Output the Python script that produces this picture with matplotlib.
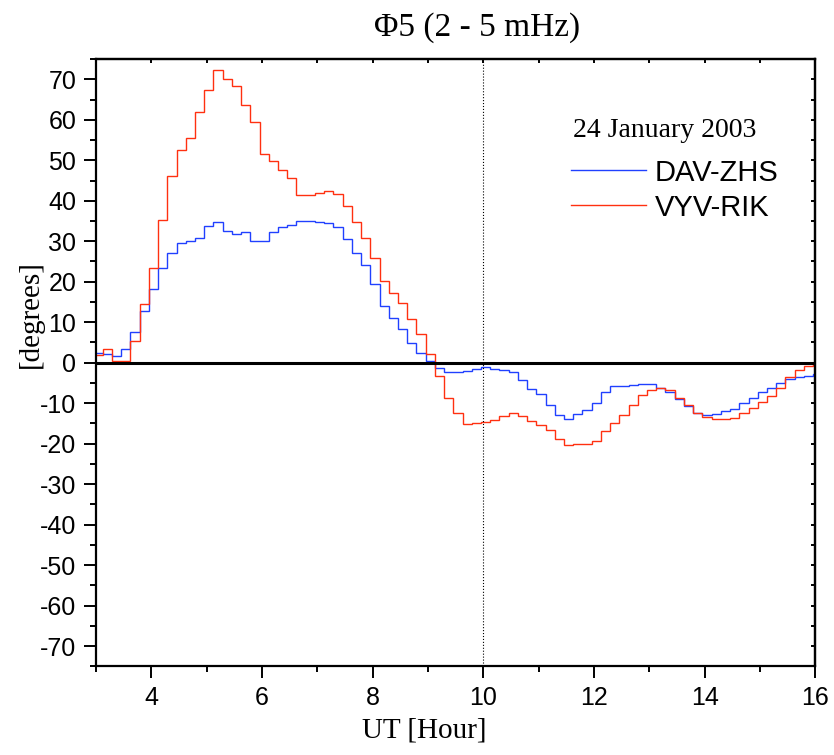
import numpy as np
import matplotlib
matplotlib.use('Agg')
import matplotlib.pyplot as plt
from matplotlib.ticker import MultipleLocator

# 10-min bins, edges at 2:57:30 + k*10min (plot clipped at 3..16 UT)
t_start = 3 - 1 / 24
t_step = 1 / 6

dav_zhs = [2.5, 2.1, 1.6, 3.4, 7.5, 12.8, 18.1, 23.3, 27.1, 29.5, 30.0, 30.9,
           33.8, 34.7, 32.5, 31.9, 32.4, 30.0, 30.0, 32.4, 33.6, 34.1, 35.0, 35.1,
           34.8, 34.6, 33.6, 30.5, 27.2, 24.1, 19.5, 14.0, 11.1, 8.4, 4.9, 2.5, 0.4,
           -1.3, -2.3, -2.2, -2.0, -1.5, -1.0, -1.5, -1.7, -2.2, -4.2, -6.4, -7.8,
           -10.4, -13.0, -13.8, -12.7, -11.8, -10.0, -7.3, -5.7, -5.8, -5.6, -5.3,
           -5.3, -6.3, -7.2, -9.0, -10.6, -12.3, -12.8, -12.6, -11.9, -11.4, -10.0,
           -8.6, -7.2, -6.3, -4.9, -4.0, -3.5, -3.2, -2.9]
vyv_rik = [1.9, 3.3, 0.5, 0.5, 5.4, 14.4, 23.3, 35.2, 46.2, 52.6, 55.4, 61.8,
           67.3, 72.4, 70.1, 68.4, 63.6, 59.4, 51.5, 49.8, 47.7, 45.5, 41.4, 41.4,
           41.8, 42.4, 41.6, 38.6, 34.7, 30.9, 25.9, 20.2, 17.1, 14.7, 10.9, 7.2, 2.1,
           -3.3, -8.6, -12.3, -15.1, -15.0, -14.6, -14.2, -13.1, -12.3, -13.2, -14.3,
           -15.3, -16.7, -18.8, -20.3, -20.2, -20.0, -19.3, -16.9, -14.8, -12.8,
           -10.5, -8.1, -6.8, -6.2, -6.7, -8.6, -10.4, -12.4, -13.4, -13.9, -13.9,
           -13.6, -12.4, -11.3, -9.6, -8.2, -6.2, -3.6, -1.7, -0.8, -0.2]

edges = t_start + t_step * np.arange(len(vyv_rik) + 1)

serif = 'Liberation Serif'
plt.rcParams['font.family'] = ['Liberation Sans', 'DejaVu Sans']
plt.rcParams['axes.unicode_minus'] = False

fig = plt.figure(figsize=(8.34, 7.55), dpi=100)
ax = fig.add_axes([0.1149, 0.1174, 0.8628, 0.8044])

ax.stairs(dav_zhs, edges, color='#2040ff', lw=1.0, label='DAV-ZHS')
ax.stairs(vyv_rik, edges, color='#ff3010', lw=1.0, label='VYV-RIK')
ax.axhline(0, color='k', lw=2.2, zorder=3)
ax.axvline(10, color='k', ls=':', lw=0.8)

ax.set_xlim(3, 16)
ax.set_ylim(-75, 75)
ax.xaxis.set_major_locator(MultipleLocator(2))
ax.xaxis.set_minor_locator(MultipleLocator(1))
ax.yaxis.set_major_locator(MultipleLocator(10))
ax.yaxis.set_minor_locator(MultipleLocator(5))

for s in ax.spines.values():
    s.set_linewidth(1.6)
ax.tick_params(which='major', direction='out', length=8.5, width=1.4,
               labelsize=18, pad=5.5)
ax.tick_params(which='minor', direction='out', length=4.3, width=1.4)

# short inward ticks on top and right
top = ax.secondary_xaxis('top')
top.xaxis.set_major_locator(MultipleLocator(1))
top.tick_params(direction='in', length=3, width=1.4, labeltop=False)
top.spines['top'].set_linewidth(1.6)
right = ax.secondary_yaxis('right')
right.yaxis.set_major_locator(MultipleLocator(5))
right.tick_params(direction='in', length=3, width=1.4, labelright=False)
right.spines['right'].set_linewidth(1.6)

ax.set_xlabel('UT [Hour]', fontsize=21, family=serif)
ax.xaxis.set_label_coords(0.456, -0.084)
ax.set_ylabel('[degrees]', fontsize=21, family=serif)
ax.yaxis.set_label_coords(-0.072, 0.58)

fig.text(0.572, 0.963, '\u03a65 (2 - 5 mHz)', fontsize=24, family=serif,
         ha='center', va='center')

ax.text(0.663, 0.883, '24 January 2003', transform=ax.transAxes,
        fontsize=20, family=serif, ha='left', va='center')
leg = ax.legend(loc='upper left', bbox_to_anchor=(0.661, 0.836), frameon=False,
                fontsize=21, handlelength=2.55, handletextpad=0.31,
                labelspacing=0.24, borderpad=0, borderaxespad=0)
for h in leg.legend_handles:
    h.set_linewidth(1.0)

fig.savefig('out.png', dpi=100)
